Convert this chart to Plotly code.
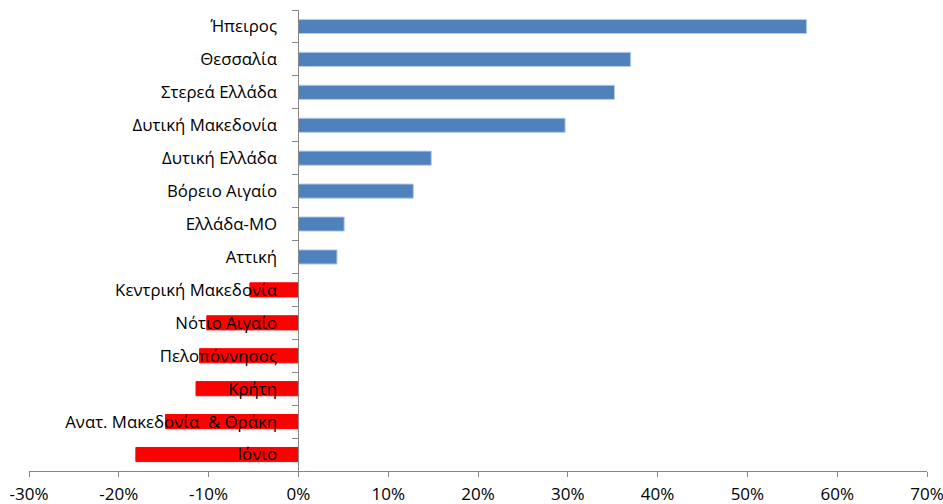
import plotly.graph_objects as go

regions = ["Ήπειρος", "Θεσσαλία", "Στερεά Ελλάδα", "Δυτική Μακεδονία", "Δυτική Ελλάδα",
           "Βόρειο Αιγαίο", "Ελλάδα-ΜΟ", "Αττική", "Κεντρική Μακεδονία", "Νότιο Αιγαίο",
           "Πελοπόννησος", "Κρήτη", "Ανατ. Μακεδονία  & Θράκη", "Ιόνιο"]
change_pct = [56.6, 37.0, 35.2, 29.7, 14.8, 12.8, 5.1, 4.3, -5.4, -10.2, -11.0, -11.4, -14.8, -18.1]
x_ticks = [-30, -20, -10, 0, 10, 20, 30, 40, 50, 60, 70]
x_tick_labels = ["-30%", "-20%", "-10%", "0%", "10%", "20%", "30%", "40%", "50%", "60%", "70%"]

colors = ["#4F81BD" if v >= 0 else "#FF0000" for v in change_pct]
line_colors = ["#B9CDE5" if v >= 0 else "#FF0000" for v in change_pct]

fig = go.Figure(go.Bar(
    x=change_pct, y=regions, orientation="h",
    marker=dict(color=colors, line=dict(color=line_colors, width=1)),
    hoverinfo="x+y",
))

xmin, xmax = -30, 70
fig.update_layout(
    width=943, height=504,
    margin=dict(l=29, r=16, t=10, b=33, autoexpand=False),
    paper_bgcolor="white", plot_bgcolor="white",
    bargap=0.57,
    showlegend=False,
    font=dict(family="Open Sans, Noto Sans, sans-serif", size=16, color="#000000"),
    xaxis=dict(
        range=[xmin, xmax], tickvals=x_ticks, ticktext=x_tick_labels,
        showgrid=False, zeroline=False,
        showline=True, linecolor="#868686", linewidth=1,
        ticks="outside", ticklen=5, tickcolor="#868686",
        tickfont=dict(size=17), automargin=False,
        ticklabeloverflow="allow", ticklabelstandoff=3,
    ),
    yaxis=dict(
        autorange="reversed", type="category",
        anchor="free", position=(0 - xmin) / (xmax - xmin),
        showgrid=False, zeroline=False,
        showline=True, linecolor="#868686", linewidth=1,
        ticks="outside", ticklen=6, tickcolor="#868686", tickson="boundaries",
        ticklabelstandoff=18, automargin=False,
        tickfont=dict(size=16.8),
    ),
)

fig.write_html("out.html", config={"displayModeBar": False},
               post_script="document.body.style.margin='0';")
